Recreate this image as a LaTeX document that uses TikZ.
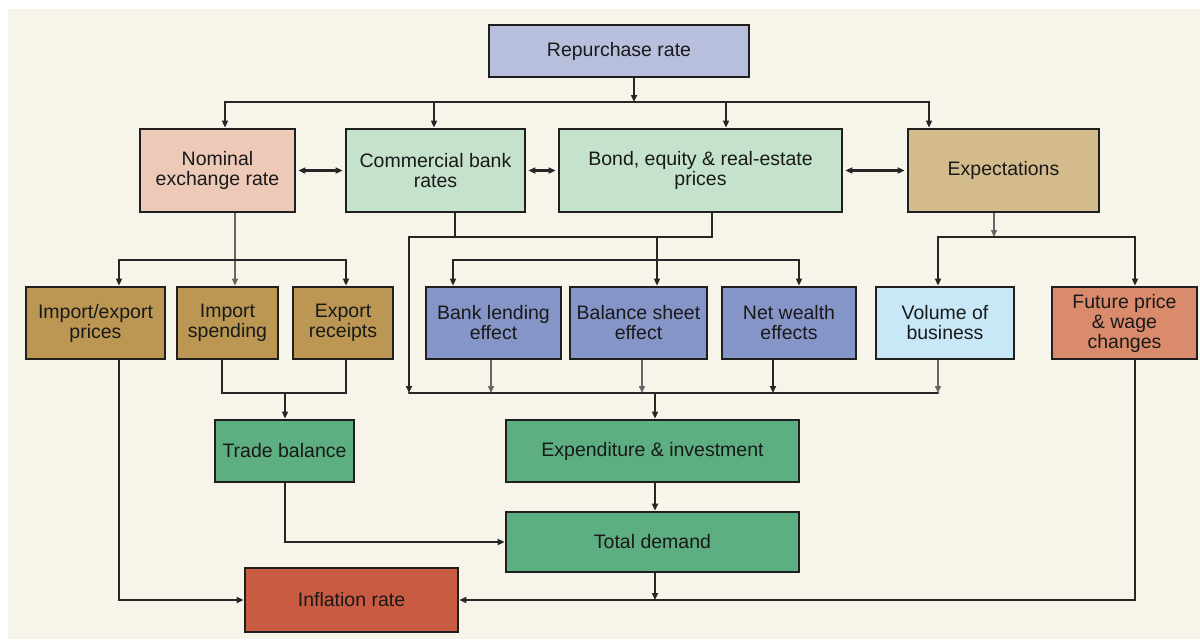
\documentclass[tikz,border=0pt]{standalone}
\usepackage{fontspec}
\setmainfont{Liberation Sans}
\usepackage{tikz}
\usetikzlibrary{arrows.meta}
\usepackage{xcolor}
\definecolor{cream}{HTML}{F7F4EA}
\definecolor{repblue}{HTML}{B8BFDC}
\definecolor{nomrose}{HTML}{EDC9B8}
\definecolor{mint}{HTML}{C5E2CD}
\definecolor{sand}{HTML}{D3BB8C}
\definecolor{ochre}{HTML}{BB9753}
\definecolor{slate}{HTML}{8695C7}
\definecolor{skyblue}{HTML}{C8E8F8}
\definecolor{salmon}{HTML}{D98B6C}
\definecolor{jade}{HTML}{5DAE80}
\definecolor{brick}{HTML}{C95B43}

\begin{document}
\begin{tikzpicture}[x=1pt,y=-1pt,>={Triangle[length=7pt,width=6pt]},line cap=round,
  box/.style={draw=black!88,line width=2.8pt,align=center,inner sep=1pt,text=black!90,
    font=\fontsize{19.5}{20}\selectfont},
  dim/.style 2 args={minimum width=#1pt,minimum height=#2pt},
  link/.style={draw=black!85,line width=2.5pt},
  faint/.style={draw=black!60,line width=1.4pt}]
\useasboundingbox (0,0) rectangle (1200,641);
\fill[white] (0,0) rectangle (1200,641);
\fill[cream] (8,9) rectangle (1200,639);

% boxes
\node[box,fill=repblue,dim={260}{52}] (rep) at (619,51) {Repurchase rate};
\node[box,fill=nomrose,dim={155}{83}] (nom) at (217.5,170.5) {Nominal\\exchange rate};
\node[box,fill=mint,dim={179}{83}] (com) at (435.5,170.5) {Commercial bank\\rates};
\node[box,fill=mint,dim={283}{83}] (bond) at (700.5,170.5) {Bond, equity \& real-estate\\prices};
\node[box,fill=sand,dim={191}{83}] (expt) at (1003.5,170.5) {Expectations};
\node[box,fill=ochre,dim={139}{72}] (imex) at (95.5,323) {Import/export\\prices};
\node[box,fill=ochre,dim={101}{72}] (imsp) at (227.5,323) {Import\\spending};
\node[box,fill=ochre,dim={100}{72}] (exrc) at (343,323) {Export\\receipts};
\node[box,fill=slate,dim={135}{72}] (bank) at (493.5,323) {Bank lending\\effect};
\node[box,fill=slate,dim={137}{72}] (bal) at (638.5,323) {Balance sheet\\effect};
\node[box,fill=slate,dim={134}{72}] (net) at (789,323) {Net wealth\\effects};
\node[box,fill=skyblue,dim={138}{72}] (vol) at (945,323) {Volume of\\business};
\node[box,fill=salmon,dim={145}{72}] (fut) at (1124.5,323) {Future price\\\& wage\\changes};
\node[box,fill=jade,dim={139}{62}] (trade) at (284.5,451) {Trade balance};
\node[box,fill=jade,dim={293}{62}] (expd) at (652.5,451) {Expenditure \& investment};
\node[box,fill=jade,dim={293}{60}] (total) at (652.5,542) {Total demand};
\node[box,fill=brick,dim={213}{64}] (infl) at (351.5,600) {Inflation rate};

% repurchase rate bus
\coordinate (t0) at (634,102);
\coordinate (t1) at (225,102);
\coordinate (t2) at (434,102);
\coordinate (t3) at (726,102);
\coordinate (t4) at (929,102);
\draw[link,->] (rep.south -| t0) -- (t0);
\draw[link] (t1) -- (t4);
\foreach \p/\q in {t1/nom,t2/com,t3/bond,t4/expt}
  \draw[link,->] (\p) -- (\p |- \q.north);
\foreach \p/\q in {nom/com,com/bond,bond/expt}
  \draw[link,<->,shorten <=2pt,shorten >=2pt] (\p) -- (\q);

% exchange rate branch
\coordinate (n0) at (235,260);
\coordinate (n1) at (119,260);
\coordinate (n2) at (346,260);
\draw[faint,->] (nom.south -| n0) -- (n0 |- imsp.north);
\draw[link] (n1) -- (n2);
\draw[link,->] (n1) -- (n1 |- imex.north);
\draw[link,->] (n2) -- (n2 |- exrc.north);

% rates and prices branch
\coordinate (r0) at (409,237);
\coordinate (r1) at (455,237);
\coordinate (r2) at (712,237);
\coordinate (r3) at (657,237);
\coordinate (s1) at (453,260);
\coordinate (s2) at (799,260);
\draw[link] (com.south -| r1) -- (r1);
\draw[link] (bond.south -| r2) -- (r2) -- (r0);
\draw[link,->] (r3) -- (r3 |- bal.north);
\draw[link] (s1) -- (s2);
\draw[link,->] (s1) -- (s1 |- bank.north);
\draw[link,->] (s2) -- (s2 |- net.north);

% expectations branch
\coordinate (e0) at (994,237);
\coordinate (e1) at (938,237);
\coordinate (e2) at (1135,237);
\draw[faint,->] (expt.south -| e0) -- (e0);
\draw[link] (e1) -- (e2);
\draw[link,->] (e1) -- (e1 |- vol.north);
\draw[link,->] (e2) -- (e2 |- fut.north);

% collector to spending
\coordinate (k0) at (409,393);
\coordinate (k1) at (938,393);
\coordinate (k2) at (655,393);
\draw[link,->] (r0) -- (k0);
\draw[link] (k0) -- (k1);
\foreach \x/\n/\s in {491/bank/faint,642/bal/faint,773/net/link,938/vol/faint}
  \draw[\s,->] (\x,0 |- \n.south) -- (\x,0 |- k0);
\draw[link,->] (k2) -- (k2 |- expd.north);
\draw[link,->] (expd.south -| k2) -- (k2 |- total.north);

% trade
\coordinate (q0) at (285,393);
\coordinate (q1) at (222,393);
\coordinate (q2) at (346,393);
\draw[link] (imsp.south -| q1) -- (q1) -- (q2) -- (exrc.south -| q2);
\draw[link,->] (q0) -- (q0 |- trade.north);
\draw[link,->] (trade.south -| q0) |- (total.west);

% inflation
\draw[link,->] (imex.south -| n1) |- (infl.west);
\draw[link,->] (fut.south -| e2) |- (infl.east);
\draw[link,->] (total.south -| k2) -- (k2 |- infl.east);
\end{tikzpicture}
\end{document}
